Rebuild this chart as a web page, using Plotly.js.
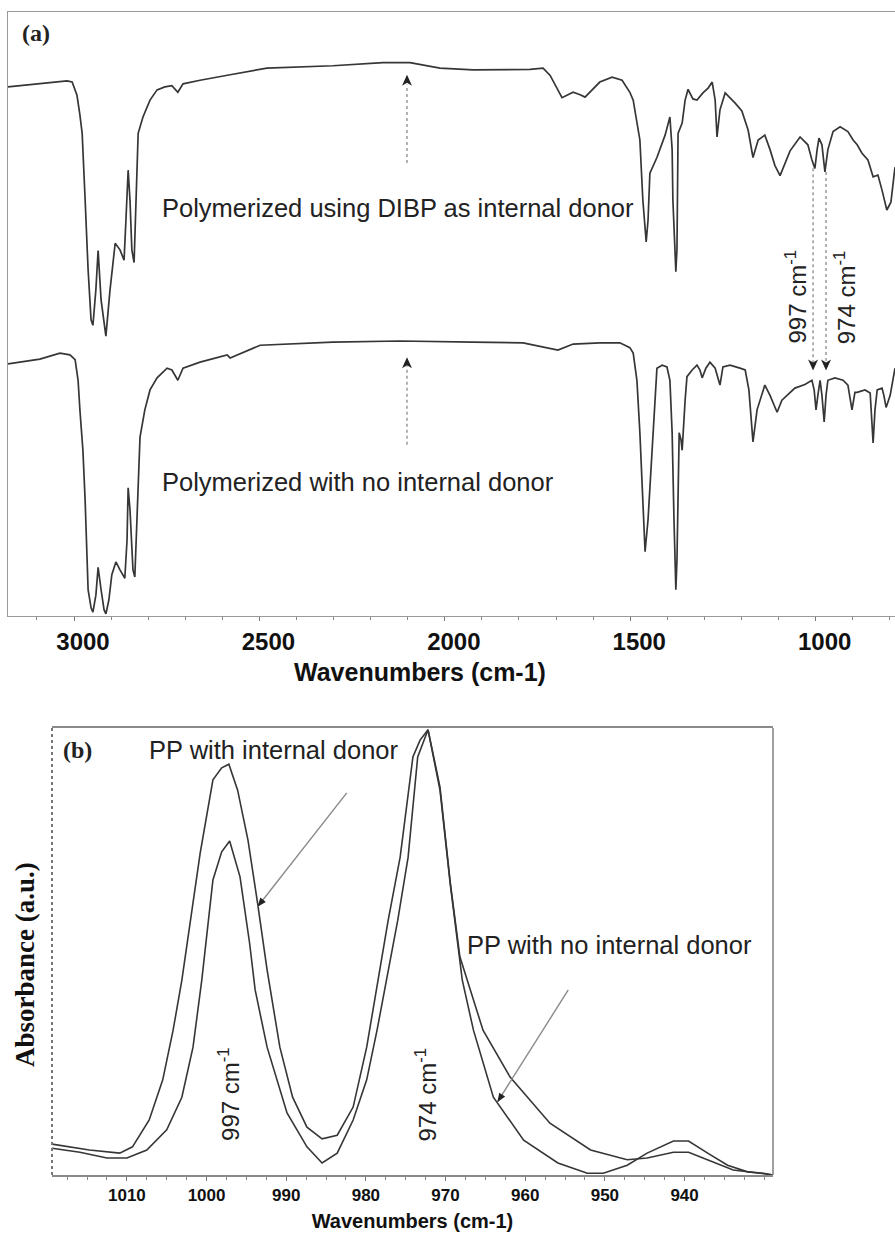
<!DOCTYPE html>
<html>
<head>
<meta charset="utf-8">
<script src="https://cdn.plot.ly/plotly-3.0.1.min.js"></script>
<style>html,body{margin:0;padding:0;background:#fff;}#chart{width:895px;height:1234px;}</style>
</head>
<body>
<div id="chart"></div>
<script>
// ---------- Panel (a): FTIR transmittance spectra (arbitrary %T scale) ----------
const wnUpper = [3178,3092,3019,3005,2992,2984,2978,2970,2962,2954,2949,2941,2935,2927,2914,2903,2889,2876,2865,2860,2854,2849,2844,2838,2833,2827,2814,2795,2776,2755,2736,2720,2706,2660,2579,2480,2302,2167,2094,2013,1924,1851,1770,1735,1716,1684,1654,1635,1622,1582,1549,1522,1501,1492,1482,1474,1466,1457,1452,1447,1428,1406,1393,1387,1385,1379,1377,1374,1371,1360,1352,1344,1331,1320,1304,1290,1279,1271,1266,1258,1244,1217,1199,1182,1169,1155,1137,1123,1110,1096,1069,1042,1021,1010,1002,996,991,983,975,967,953,934,913,899,888,875,859,845,832,821,808,797,786];
const tUpper = [87.6,88.1,88.6,88.4,86.2,82.9,79.9,68.9,57.3,49.0,48.1,54.0,60.5,52.3,46.3,53.9,61.7,60.6,58.9,65.5,73.8,68.8,60.6,58.5,68.8,79.9,82.6,85.4,87.1,87.6,87.8,86.7,88.1,88.7,89.6,90.7,91.1,91.6,91.6,90.7,90.4,90.4,90.5,90.7,89.5,85.8,86.7,86.3,85.9,88.4,89.2,88.7,86.7,85.4,82.1,78.8,68.9,61.9,65.5,73.3,75.9,79.6,82.6,77.2,68.9,59.0,57.0,60.7,79.9,81.6,85.4,87.2,85.6,85.4,86.6,87.4,88.4,85.4,79.3,83.8,86.6,84.9,83.6,80.4,75.9,78.8,79.6,77.2,74.6,72.9,77.0,79.3,78.0,75.5,74.1,77.2,79.1,78.0,73.5,77.2,80.2,81.0,80.2,78.8,78.0,76.6,75.5,72.7,73.0,70.5,67.2,68.5,74.3];

const wnLower = [3178,3092,3038,3011,2997,2989,2984,2976,2970,2962,2954,2949,2941,2935,2927,2919,2914,2906,2898,2887,2876,2863,2857,2854,2849,2841,2836,2830,2822,2809,2795,2776,2749,2736,2720,2706,2660,2587,2579,2498,2302,2121,1986,1924,1789,1695,1654,1582,1528,1501,1492,1482,1474,1466,1460,1452,1441,1433,1428,1414,1401,1393,1387,1382,1377,1374,1368,1363,1360,1352,1347,1333,1320,1312,1306,1296,1285,1271,1258,1250,1231,1204,1190,1180,1169,1158,1137,1123,1104,1091,1077,1056,1029,1010,1004,999,994,988,983,977,972,967,948,926,913,902,894,888,867,853,845,840,834,821,816,810,799,786];
const tLower = [41.7,42.5,43.5,43.2,42.4,39.0,34.0,27.4,19.1,4.3,1.3,0.6,3.4,8.0,4.3,1.0,0.3,2.6,6.8,8.9,7.6,6.2,12.5,21.2,17.5,7.6,6.4,15.9,29.6,34.1,37.4,39.4,41.0,40.7,39.0,41.0,42.0,43.2,42.7,44.8,45.3,45.5,45.3,45.3,45.2,44.0,45.0,45.2,45.2,44.4,43.5,39.0,30.3,19.2,10.6,15.9,27.4,35.7,41.0,41.5,41.2,39.0,30.3,15.9,4.3,9.2,30.3,29.1,27.4,35.7,39.6,40.7,41.5,40.7,39.4,41.0,42.0,41.0,38.2,41.2,41.5,41.0,40.7,37.4,28.8,34.1,38.2,36.5,33.7,35.7,36.5,37.7,38.3,39.0,37.4,34.1,36.5,39.0,36.5,32.1,36.5,39.0,39.4,39.0,38.2,34.1,37.0,37.0,37.4,36.9,28.6,34.1,37.4,37.7,36.5,34.5,36.5,41.0];

const ticksA = [3000, 2500, 2000, 1500, 1000];

// ---------- Panel (b): absorbance, 1020-929 cm-1 ----------
const wnDonor = [1019.4,1014.7,1010.9,1009.3,1007.2,1005.5,1004.2,1003.1,1000.8,999.2,998.1,997.2,996.1,994.8,993.6,992.4,990.8,989.2,987.4,985.5,983.6,981.6,979.9,978.6,977.2,975.7,974.1,973.2,972.2,970.7,969.4,968.2,967.3,965.3,961.9,956.9,951.8,947.2,944.7,941.4,939.5,937.1,933.9,930.5,928.9];
const absDonor = [0.069,0.056,0.049,0.063,0.123,0.213,0.324,0.436,0.720,0.884,0.911,0.919,0.861,0.749,0.609,0.459,0.286,0.174,0.107,0.081,0.089,0.152,0.286,0.425,0.570,0.711,0.935,0.973,0.996,0.868,0.653,0.488,0.436,0.324,0.219,0.116,0.056,0.034,0.038,0.051,0.051,0.034,0.011,0.004,0.0];

const wnNoDonor = [1019.4,1015.9,1012.5,1010.0,1007.5,1005.0,1003.1,1001.7,1000.6,999.2,998.1,997.1,995.8,994.6,993.9,992.4,989.9,987.4,985.5,983.6,981.6,979.9,978.6,977.4,976.0,974.7,973.5,972.2,970.7,969.4,967.9,966.5,964.0,960.2,955.9,952.2,950.2,947.2,944.7,941.4,939.5,937.1,934.6,932.1,930.1,928.9];
const absNoDonor = [0.060,0.051,0.038,0.038,0.056,0.101,0.174,0.286,0.436,0.660,0.723,0.747,0.667,0.519,0.414,0.286,0.139,0.063,0.027,0.049,0.123,0.213,0.324,0.436,0.570,0.711,0.935,0.996,0.861,0.649,0.436,0.324,0.174,0.078,0.027,0.004,0.004,0.022,0.049,0.076,0.076,0.049,0.022,0.007,0.004,0.0];

const ticksB = [1010, 1000, 990, 980, 970, 960, 950, 940];

// ---------- figure ----------
const W = 895, H = 1234;
const px = v => v / W;            // horizontal pixel -> paper fraction
const py = v => 1 - v / H;        // vertical pixel -> paper fraction

const lineCol = '#363636';
const sans = 'Liberation Sans, Arial, sans-serif';
const serif = 'Liberation Serif, Times New Roman, serif';

const traces = [
  {x: wnUpper, y: tUpper, xaxis: 'x', yaxis: 'y', type: 'scatter', mode: 'lines',
   line: {color: lineCol, width: 1.7}, name: 'Polymerized using DIBP as internal donor'},
  {x: wnLower, y: tLower, xaxis: 'x', yaxis: 'y', type: 'scatter', mode: 'lines',
   line: {color: lineCol, width: 1.7}, name: 'Polymerized with no internal donor'},
  {x: wnDonor, y: absDonor, xaxis: 'x2', yaxis: 'y2', type: 'scatter', mode: 'lines',
   line: {color: lineCol, width: 1.6}, name: 'PP with internal donor'},
  {x: wnNoDonor, y: absNoDonor, xaxis: 'x2', yaxis: 'y2', type: 'scatter', mode: 'lines',
   line: {color: lineCol, width: 1.6}, name: 'PP with no internal donor'}
];

const textFont = {family: sans, size: 25.5, color: '#222'};
const rotFont = {family: sans, size: 24, color: '#222'};

const annotations = [
  {xref: 'paper', yref: 'paper', x: px(20), y: py(33), xanchor: 'left', yanchor: 'middle', showarrow: false,
   text: '(a)', font: {family: serif, size: 24, color: '#222', weight: 'bold'}},
  {xref: 'paper', yref: 'paper', x: px(61), y: py(750), xanchor: 'left', yanchor: 'middle', showarrow: false,
   text: '(b)', font: {family: serif, size: 24, color: '#222', weight: 'bold'}},
  {xref: 'paper', yref: 'paper', x: px(420), y: py(672), xanchor: 'center', yanchor: 'middle', showarrow: false,
   text: 'Wavenumbers (cm-1)', font: {family: sans, size: 25, color: '#111', weight: 'bold'}},
  {xref: 'paper', yref: 'paper', x: px(25), y: py(965), xanchor: 'center', yanchor: 'middle', showarrow: false, textangle: -90,
   text: 'Absorbance (a.u.)', font: {family: serif, size: 27, color: '#111', weight: 'bold'}},
  // panel (a) texts
  {xref: 'x', yref: 'y', x: 2768, y: 67.5, xanchor: 'left', yanchor: 'middle', showarrow: false,
   text: 'Polymerized using DIBP as internal donor', font: textFont},
  {xref: 'x', yref: 'y', x: 2768, y: 22.1, xanchor: 'left', yanchor: 'middle', showarrow: false,
   text: 'Polymerized with no internal donor', font: textFont},
  {xref: 'x', yref: 'y', x: 1054, y: 52.8, xanchor: 'center', yanchor: 'middle', showarrow: false, textangle: -90,
   text: '997 cm<sup>-1</sup>', font: rotFont},
  {xref: 'x', yref: 'y', x: 920, y: 52.8, xanchor: 'center', yanchor: 'middle', showarrow: false, textangle: -90,
   text: '974 cm<sup>-1</sup>', font: rotFont},
  // panel (b) texts
  {xref: 'x2', yref: 'y2', x: 1007.5, y: 0.951, xanchor: 'left', yanchor: 'middle', showarrow: false,
   text: 'PP with internal donor', font: textFont},
  {xref: 'x2', yref: 'y2', x: 967.6, y: 0.515, xanchor: 'left', yanchor: 'middle', showarrow: false,
   text: 'PP with no internal donor', font: textFont},
  {xref: 'x2', yref: 'y2', x: 997.2, y: 0.181, xanchor: 'center', yanchor: 'middle', showarrow: false, textangle: -90,
   text: '997 cm<sup>-1</sup>', font: rotFont},
  {xref: 'x2', yref: 'y2', x: 972.4, y: 0.181, xanchor: 'center', yanchor: 'middle', showarrow: false, textangle: -90,
   text: '974 cm<sup>-1</sup>', font: rotFont}
];

const dotted = {color: '#8a8a8a', width: 1.3, dash: 'dot'};
const headUp = 'M 0 0 L 5 -11 L 0 -8 L -5 -11 Z';
const headDown = 'M 0 0 L 5 11 L 0 8 L -5 11 Z';
function head(xref, yref, xa, ya, path) {
  return {type: 'path', xref: xref, yref: yref, xsizemode: 'pixel', ysizemode: 'pixel',
          xanchor: xa, yanchor: ya, path: path, fillcolor: '#222', line: {width: 0}};
}
const shapes = [
  // dotted arrows in panel (a)
  {type: 'line', xref: 'x', yref: 'y', x0: 2102, x1: 2102, y0: 75.0, y1: 88.0, line: dotted},
  {type: 'line', xref: 'x', yref: 'y', x0: 2102, x1: 2102, y0: 28.3, y1: 41.5, line: dotted},
  {type: 'line', xref: 'x', yref: 'y', x0: 1007, x1: 1007, y0: 74.1, y1: 42.0, line: dotted},
  {type: 'line', xref: 'x', yref: 'y', x0: 972, x1: 972, y0: 73.5, y1: 42.0, line: dotted},
  head('x', 'y', 2102, 89.6, headUp),
  head('x', 'y', 2102, 42.8, headUp),
  head('x', 'y', 1007, 40.6, headDown),
  head('x', 'y', 972, 40.6, headDown),
  // panel (b): dotted left frame, solid right frame
  {type: 'line', xref: 'x2 domain', yref: 'y2 domain', x0: 0, x1: 0, y0: 0, y1: 1, line: {color: '#777', width: 2, dash: 'dot'}},
  {type: 'line', xref: 'x2 domain', yref: 'y2 domain', x0: 1, x1: 1, y0: 0, y1: 1, line: {color: '#888', width: 1.6}},
  // pointer arrows in panel (b)
  {type: 'line', xref: 'x2', yref: 'y2', x0: 982.4, y0: 0.855, x1: 993.6, y1: 0.600, line: {color: '#8a8a8a', width: 1.4}},
  head('x2', 'y2', 993.6, 0.600, 'M 0 0 L 8.3 4.9 L 2.8 9.2 Z'),
  {type: 'line', xref: 'x2', yref: 'y2', x0: 954.6, y0: 0.414, x1: 963.5, y1: 0.163, line: {color: '#8a8a8a', width: 1.4}},
  head('x2', 'y2', 963.5, 0.163, 'M 0 0 L 7.8 5.7 L 1.9 9.5 Z')
];

const layout = {
  width: W, height: H,
  margin: {l: 0, r: 0, t: 0, b: 0},
  paper_bgcolor: '#ffffff', plot_bgcolor: '#ffffff',
  showlegend: false,
  xaxis: {
    domain: [px(8), 1], range: [3178, 786], anchor: 'y',
    tickmode: 'array', tickvals: ticksA, ticktext: ticksA.map(String),
    ticks: 'outside', ticklen: 4, tickwidth: 1, tickcolor: '#777',
    minor: {tick0: 0, dtick: 100, ticks: 'outside', ticklen: 3, tickwidth: 1, tickcolor: '#888', showgrid: false},
    showline: true, linecolor: '#9a9a9a', linewidth: 1.5, mirror: true,
    showgrid: false, zeroline: false, ticklabelshift: -9,
    tickfont: {family: sans, size: 24, color: '#111', weight: 'bold'}
  },
  yaxis: {
    domain: [py(615.7), py(12)], range: [0, 100], anchor: 'x',
    showline: true, linecolor: '#9a9a9a', linewidth: 1.5, mirror: false,
    showticklabels: false, ticks: '', showgrid: false, zeroline: false
  },
  xaxis2: {
    domain: [px(52), px(773)], range: [1019.4, 928.9], anchor: 'y2',
    tickmode: 'array', tickvals: ticksB, ticktext: ticksB.map(String),
    ticks: 'outside', ticklen: 4, tickwidth: 1, tickcolor: '#777',
    minor: {tick0: 0, dtick: 2.5, ticks: 'outside', ticklen: 3, tickwidth: 1, tickcolor: '#888', showgrid: false},
    showline: true, linecolor: '#8a8a8a', linewidth: 1.6, mirror: true,
    showgrid: false, zeroline: false,
    tickfont: {family: sans, size: 17, color: '#111', weight: 'bold'},
    title: {text: 'Wavenumbers (cm-1)', font: {family: sans, size: 20, color: '#111', weight: 'bold'}, standoff: 10}
  },
  yaxis2: {
    domain: [py(1175), py(728)], range: [0, 1.0], anchor: 'x2',
    showline: false, showticklabels: false, ticks: '', showgrid: false, zeroline: false
  },
  annotations: annotations,
  shapes: shapes
};

Plotly.newPlot('chart', traces, layout, {displayModeBar: false, staticPlot: true});
</script>
</body>
</html>
